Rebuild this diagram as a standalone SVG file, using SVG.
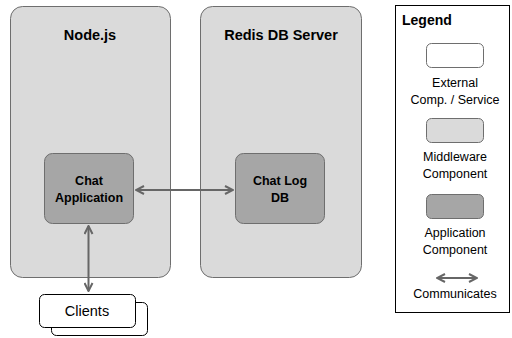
<svg xmlns="http://www.w3.org/2000/svg" width="512" height="338" viewBox="0 0 512 338">
<style>
text{font-family:"Liberation Sans",Arial,sans-serif;fill:#000}
.t{font-weight:bold;font-size:14.5px;text-anchor:middle}
.b{font-weight:bold;font-size:12.5px;text-anchor:middle}
.l{font-size:12.5px;text-anchor:middle}
.mid{fill:#dadada;stroke:#6e6e6e;stroke-width:1}
.app{fill:#a6a6a6;stroke:#6e6e6e;stroke-width:1}
.ext{fill:#fff;stroke:#000;stroke-width:1}
.c{stroke:#666;stroke-width:2;fill:none}
</style>
<defs>
<marker id="ah" viewBox="0 0 10 10" refX="9" refY="5" markerWidth="5" markerHeight="5" orient="auto-start-reverse" markerUnits="strokeWidth">
<path d="M1,1 L9,5 L1,9" fill="none" stroke="#666" stroke-width="2"/>
</marker>
</defs>
<g id="nodejs">
<rect class="mid" x="10.5" y="6.5" width="160" height="271" rx="12"/>
<text class="t" x="90" y="40">Node.js</text>
</g>
<g id="redis">
<rect class="mid" x="200.5" y="6.5" width="161" height="271" rx="12"/>
<text class="t" x="281" y="40">Redis DB Server</text>
</g>
<g id="chatapp">
<rect class="app" x="44.5" y="153.5" width="89" height="70" rx="8"/>
<text class="b" x="89" y="185">Chat</text>
<text class="b" x="89" y="202">Application</text>
</g>
<g id="chatlog">
<rect class="app" x="235.5" y="153.5" width="89" height="70" rx="8"/>
<text class="b" x="280" y="185">Chat Log</text>
<text class="b" x="280" y="202">DB</text>
</g>
<g id="clients">
<rect class="ext" x="51.5" y="302.5" width="96" height="33" rx="5"/>
<rect class="ext" x="39.5" y="294.5" width="96" height="33" rx="5"/>
<text x="87" y="316" style="font-size:14.5px;text-anchor:middle">Clients</text>
</g>
<g id="connectors">
<line class="c" x1="136" y1="190" x2="233" y2="190" marker-start="url(#ah)" marker-end="url(#ah)"/>
<line class="c" x1="88.5" y1="226" x2="88.5" y2="291" marker-start="url(#ah)" marker-end="url(#ah)"/>
</g>
<g id="legend">
<rect x="395.5" y="5.5" width="114" height="307" fill="#fff" stroke="#000" stroke-width="1"/>
<text x="402" y="25" style="font-weight:bold;font-size:14px">Legend</text>
<rect x="426.5" y="43.5" width="57" height="24" rx="5" fill="#fff" stroke="#6e6e6e"/>
<text class="l" x="455" y="87">External</text>
<text class="l" x="455" y="104">Comp. / Service</text>
<rect class="mid" x="426.5" y="118.5" width="57" height="24" rx="5"/>
<text class="l" x="455" y="161">Middleware</text>
<text class="l" x="455" y="178">Component</text>
<rect class="app" x="426.5" y="194.5" width="57" height="24" rx="5"/>
<text class="l" x="455" y="237">Application</text>
<text class="l" x="455" y="254">Component</text>
<line class="c" x1="437" y1="278" x2="477" y2="278" marker-start="url(#ah)" marker-end="url(#ah)"/>
<text class="l" x="455" y="298">Communicates</text>
</g>
</svg>
